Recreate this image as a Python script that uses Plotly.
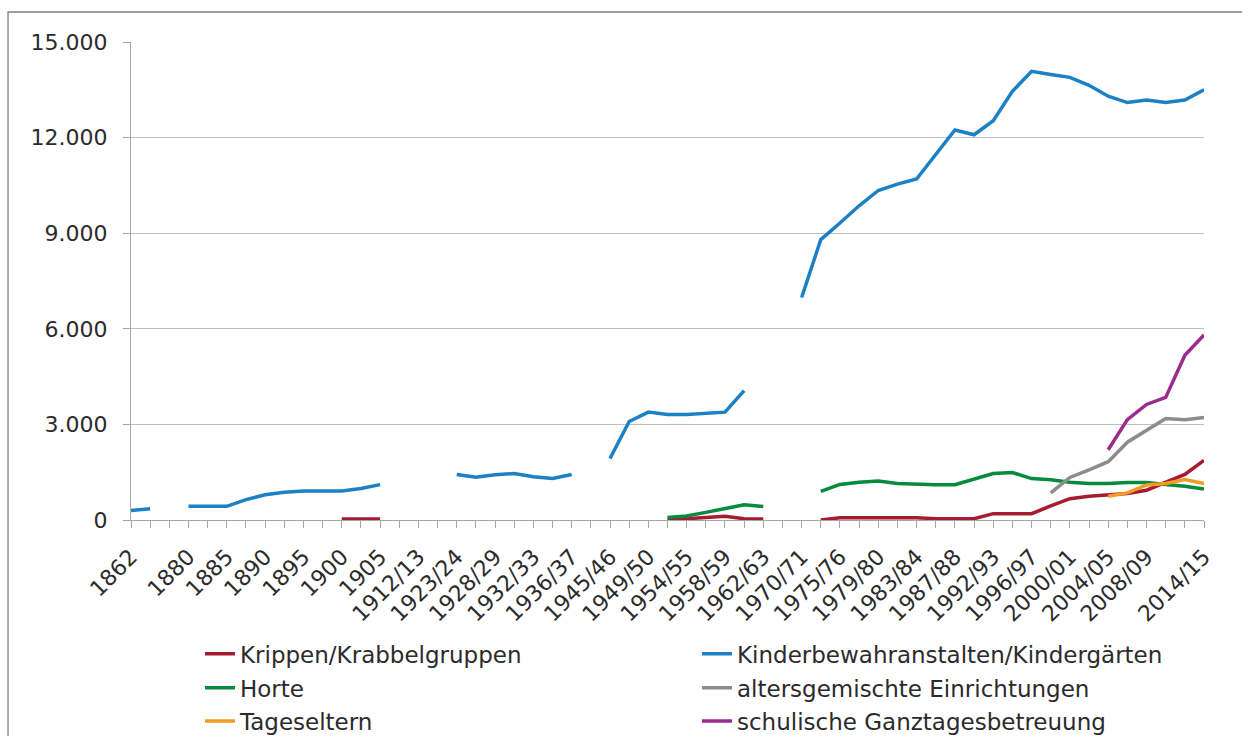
import plotly.graph_objects as go

categories = ["1862", "", "", "1880", "", "1885", "", "1890", "", "1895", "",
              "1900", "", "1905", "", "1912/13", "", "1923/24", "", "1928/29", "",
              "1932/33", "", "1936/37", "", "1945/46", "", "1949/50", "", "1954/55", "",
              "1958/59", "", "1962/63", "", "1970/71", "", "1975/76", "", "1979/80", "",
              "1983/84", "", "1987/88", "", "1992/93", "", "1996/97", "", "2000/01", "",
              "2004/05", "", "2008/09", "", "", "2014/15"]

N = None
krippen = [N, N, N, N, N, N, N, N, N, N, N, 30, 30, 30, N, N, N, N, N, N, N,
           N, N, N, N, N, N, N, 30, 40, 80, 115, 40, 30, N, N, 0, 70, 70, 70, 70,
           70, 40, 40, 40, 200, 200, 200, 440, 670, 745, 775, 830, 935, 1175, 1430, 1870]
kindergarten = [300, 350, N, 430, 430, 430, 640, 790, 870, 910, 910, 910, 990, 1110, N,
                N, N, 1430, 1345, 1420, 1460, 1355, 1305, 1430, N, 1930, 3090, 3385,
                3310, 3310, 3340, 3385, 4060, N, N, 6980, 8800, 9320, 9860, 10340, 10540,
                10700, 11490, 12240, 12090, 12530, 13450, 14080, 13980, 13890, 13640,
                13300, 13100, 13180, 13100, 13180, 13500]
horte = [N, N, N, N, N, N, N, N, N, N, N, N, N, N, N, N, N, N, N, N, N,
         N, N, N, N, N, N, N, 75, 125, 240, 355, 475, 425, N, N, 895, 1115, 1185, 1220,
         1145, 1115, 1105, 1105, 1270, 1460, 1490, 1300, 1260, 1185, 1145, 1145, 1175,
         1175, 1115, 1060, 975]
altersgemischt = [N] * 48 + [850, 1335, 1575, 1830, 2440, 2805, 3185, 3145, 3215]
tageseltern = [N] * 51 + [745, 850, 1100, 1145, 1270, 1145]
schulisch = [N] * 51 + [2205, 3150, 3625, 3845, 5170, 5810]

x = list(range(len(categories)))

series = [
    ("Krippen/Krabbelgruppen", krippen, "#a51c30", "legend"),
    ("Kinderbewahranstalten/Kindergärten", kindergarten, "#1b80c4", "legend"),
    ("Horte", horte, "#068a3d", "legend2"),
    ("altersgemischte Einrichtungen", altersgemischt, "#8c8c8c", "legend2"),
    ("Tageseltern", tageseltern, "#f59a23", "legend3"),
    ("schulische Ganztagesbetreuung", schulisch, "#9b2b8e", "legend3"),
]

fig = go.Figure()
for name, vals, color, lg in series:
    fig.add_trace(go.Scatter(x=x, y=vals, name=name, mode="lines",
                             line=dict(color=color, width=3.5),
                             connectgaps=False, legend=lg))

font_family = "DejaVu Sans"
txt = "#2b2b2b"

def leg(y):
    return dict(orientation="h", x=0.0643, xanchor="left", y=y, yanchor="middle",
                entrywidth=452, entrywidthmode="pixels",
                font=dict(family=font_family, size=23, color=txt),
                bgcolor="rgba(0,0,0,0)", borderwidth=0)

fig.update_layout(
    width=1242, height=736,
    margin=dict(l=131, r=38, t=42, b=216, autoexpand=False),
    paper_bgcolor="white", plot_bgcolor="white",
    separators=",.",
    font=dict(family=font_family, size=22, color=txt),
    legend=leg(-0.280),
    legend2=leg(-0.351),
    legend3=leg(-0.4205),
    xaxis=dict(range=[0, len(categories) - 1], tickmode="array", tickvals=x,
               ticktext=categories, tickangle=-45, ticks="outside", ticklen=7,
               tickcolor="#a6a6a6", tickwidth=1.3, showline=True, linecolor="#a6a6a6",
               linewidth=1.3, showgrid=False, zeroline=False, ticklabelstandoff=7,
               tickfont=dict(family=font_family, size=22, color=txt)),
    yaxis=dict(range=[0, 15000], tickmode="linear", tick0=0, dtick=3000,
               tickformat=",d", ticks="outside", ticklen=7, tickcolor="#a6a6a6",
               tickwidth=1.3, showline=True, linecolor="#a6a6a6", linewidth=1.3,
               showgrid=True, gridcolor="#bfbfbf", gridwidth=1.3, zeroline=False,
               ticklabelstandoff=11,
               tickfont=dict(family=font_family, size=22, color=txt)),
    shapes=[dict(type="rect", xref="paper", yref="paper",
                 x0=-0.1146, x1=1.06, y0=-0.52, y1=1.0628,
                 line=dict(color="#7f7f7f", width=1.3), fillcolor="rgba(0,0,0,0)")],
)

fig.write_html("out.html", config={"displayModeBar": False},
               post_script="document.body.style.margin='0';")
